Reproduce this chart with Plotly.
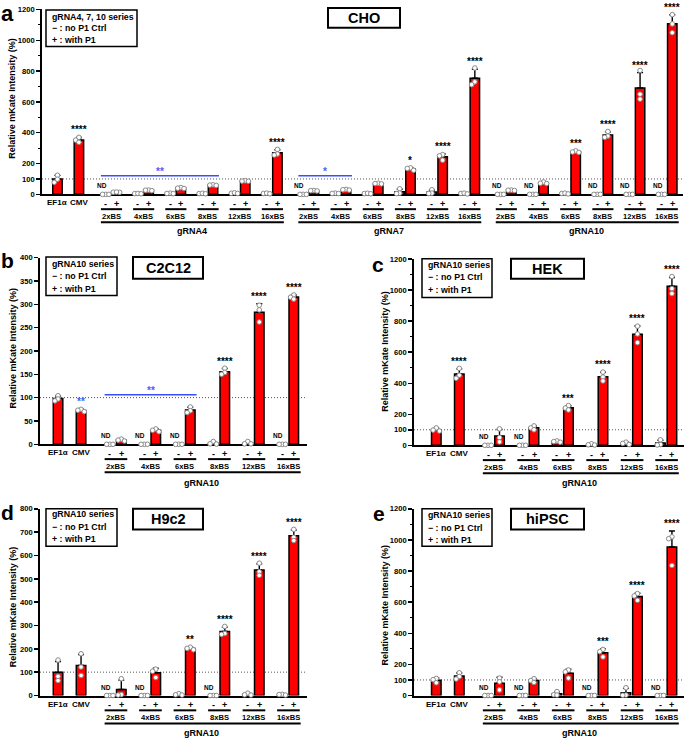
import numpy as np
import plotly.graph_objects as go

W, H = 685, 743
FONT = "Liberation Sans, Arial, Helvetica, sans-serif"

# ---------------- data ----------------
CTRL_LABELS = ["EF1α", "CMV"]
BS_LABELS = ["2xBS", "4xBS", "6xBS", "8xBS", "12xBS", "16xBS"]
SIGN_LABELS = ["-", "+"]
LEGEND_LINES = ["− : no P1 Ctrl", "+ : with P1"]

# Panel a: CHO (replicates, %)
CHO_BLOCKS = ["gRNA4", "gRNA7", "gRNA10"]
CHO_CTRL = [[124, 78, 98], [370, 352, 338]]
CHO_MINUS = [
    [[0, 0, 0], [5, 6, 4], [8, 5, 6], [5, 7, 4], [7, 10, 6], [6, 8, 4]],
    [[0, 0, 0], [8, 6, 5], [5, 7, 4], [36, 8, 5], [30, 8, 6], [6, 8, 3]],
    [[0, 0, 0], [0, 0, 0], [6, 8, 3], [0, 0, 0], [0, 0, 0], [0, 0, 0]],
]
CHO_PLUS = [
    [[14, 13, 15], [28, 24, 27], [44, 38, 40], [62, 58, 60], [88, 85, 86], [292, 262, 255]],
    [[25, 22, 24], [32, 28, 30], [72, 68, 70], [172, 168, 156], [258, 250, 222], [820, 730, 712]],
    [[28, 25, 27], [80, 72, 70], [282, 275, 272], [408, 378, 370], [804, 650, 618], [1166, 1106, 1049]],
]
CHO_CTRL_STARS = ["", "****"]
CHO_PLUS_STARS = [
    ["", "", "", "", "", "****"],
    ["", "", "", "*", "****", "****"],
    ["", "", "***", "****", "****", "****"],
]
CHO_BRACKETS = [(0, 0, 3, 121, "**"), (1, 0, 1, 121, "*")]

# Panel b: C2C12
C2C12_CTRL = [[104, 97, 93], [75, 73, 70]]
C2C12_MINUS = [[[0, 0, 0], [0, 0, 0], [0, 0, 0], [6, 0.5, 1], [6, 1, 1], [0, 0, 0]]]
C2C12_PLUS = [[[11, 9, 7], [33, 30, 27], [80, 72, 68], [163, 154, 150], [298, 288, 262], [320, 315, 311]]]
C2C12_CTRL_STARS = ["", ""]
C2C12_CTRL_BLUE = ["", "**"]
C2C12_PLUS_STARS = [["", "", "", "****", "****", "****"]]
C2C12_BRACKETS = [(0, 0, 2, 106, "**")]

# Panel c: HEK
HEK_CTRL = [[112, 98, 92], [496, 452, 432]]
HEK_MINUS = [[[0, 0, 0], [0, 0, 0], [28, 24, 20], [10, 2, 3], [20, 12, 5], [35, 5, 2]]]
HEK_PLUS = [[[106, 50, 22], [125, 112, 100], [256, 240, 228], [472, 440, 415], [768, 718, 662], [1088, 1010, 978]]]
HEK_CTRL_STARS = ["", "****"]
HEK_PLUS_STARS = [["", "", "***", "****", "****", "****"]]

# Panel d: H9c2
H9C2_CTRL = [[152, 82, 64], [179, 122, 86]]
H9C2_MINUS = [[[0, 0, 0], [0, 0, 0], [8, 3, 2], [0, 0, 0], [10, 3, 2], [5, 2, 4]]]
H9C2_PLUS = [[[72, 4, 2], [113, 104, 77], [207, 202, 196], [296, 266, 262], [567, 530, 515], [712, 678, 664]]]
H9C2_CTRL_STARS = ["", ""]
H9C2_PLUS_STARS = [["", "", "**", "****", "****", "****"]]

# Panel e: hiPSC
HIPSC_CTRL = [[110, 102, 82], [146, 122, 106]]
HIPSC_MINUS = [[[0, 0, 0], [0, 0, 0], [25, 5, 3], [0, 0, 0], [50, 3, 2], [0, 0, 0]]]
HIPSC_PLUS = [[[112, 88, 36], [108, 96, 84], [164, 152, 112], [296, 282, 248], [655, 640, 612], [1020, 1008, 836]]]
HIPSC_CTRL_STARS = ["", ""]
HIPSC_PLUS_STARS = [["", "", "", "***", "****", "****"]]

TICKS_1200 = [0, 100, 200, 400, 600, 800, 1000, 1200]
MINOR_1200 = [300, 500, 700, 900, 1100]
TICKS_400 = [0, 50, 100, 150, 200, 250, 300, 350, 400]
TICKS_800 = [0, 100, 200, 300, 400, 500, 600, 700, 800]

# ---------------- geometry (pixels) ----------------
GEOM_L = dict(x0=40, x1=307, xr0=-1.57, xr1=21.65)
GEOM_R = dict(x0=414, x1=684, xr0=-1.94, xr1=21.55)

PANELS = [
    dict(letter="a", title="CHO", head="gRNA4, 7, 10 series", blocks=CHO_BLOCKS,
         ctrl=CHO_CTRL, minus=CHO_MINUS, plus=CHO_PLUS, ctrl_stars=CHO_CTRL_STARS,
         ctrl_blue=["", ""], plus_stars=CHO_PLUS_STARS, brackets=CHO_BRACKETS,
         ymax=1200, ticks=TICKS_1200, minor=MINOR_1200,
         g=dict(x0=42, x1=683, xr0=-1.44, xr1=58.3, ytop=5.5, yzero=192.7, first=4.5, step=18.4,
                barw=0.88, letter=(7, 10, 22), tbox=(328, 4, 400, 24), lbox=(46, 6, 137, 43),
                llines=(12.7, 24.3, 36), ytitle=(12, 96), gy=37)),
    dict(letter="b", title="C2C12", head="gRNA10 series", blocks=["gRNA10"],
         ctrl=C2C12_CTRL, minus=C2C12_MINUS, plus=C2C12_PLUS, ctrl_stars=C2C12_CTRL_STARS,
         ctrl_blue=C2C12_CTRL_BLUE, plus_stars=C2C12_PLUS_STARS, brackets=C2C12_BRACKETS,
         ymax=400, ticks=TICKS_400, minor=[],
         g=dict(GEOM_L, ytop=256.7, yzero=445.7, first=4.5, step=0, barw=0.83,
                letter=(7, 260, 21), tbox=(133, 256, 203, 278), lbox=(46, 256, 117, 295),
                llines=(263.3, 275.5, 288.3), ytitle=(12.7, 348), gy=39)),
    dict(letter="c", title="HEK", head="gRNA10 series", blocks=["gRNA10"],
         ctrl=HEK_CTRL, minus=HEK_MINUS, plus=HEK_PLUS, ctrl_stars=HEK_CTRL_STARS,
         ctrl_blue=["", ""], plus_stars=HEK_PLUS_STARS, brackets=[],
         ymax=1200, ticks=TICKS_1200, minor=MINOR_1200,
         g=dict(GEOM_R, ytop=258.3, yzero=446.7, first=4.5, step=0, barw=0.83,
                letter=(378, 264, 21), tbox=(511, 258, 584, 278), lbox=(422, 258, 492, 297),
                llines=(264.3, 276.7, 289.3), ytitle=(385, 352), gy=38.3)),
    dict(letter="d", title="H9c2", head="gRNA10 series", blocks=["gRNA10"],
         ctrl=H9C2_CTRL, minus=H9C2_MINUS, plus=H9C2_PLUS, ctrl_stars=H9C2_CTRL_STARS,
         ctrl_blue=["", ""], plus_stars=H9C2_PLUS_STARS, brackets=[],
         ymax=800, ticks=TICKS_800, minor=[],
         g=dict(GEOM_L, ytop=511, yzero=700, first=4.5, step=0, barw=0.83,
                letter=(7, 515, 21), tbox=(133, 511, 203, 532), lbox=(46, 511, 117, 549),
                llines=(516.7, 529.3, 541.7), ytitle=(12.7, 610), gy=38.3)),
    dict(letter="e", title="hiPSC", head="gRNA10 series", blocks=["gRNA10"],
         ctrl=HIPSC_CTRL, minus=HIPSC_MINUS, plus=HIPSC_PLUS, ctrl_stars=HIPSC_CTRL_STARS,
         ctrl_blue=["", ""], plus_stars=HIPSC_PLUS_STARS, brackets=[],
         ymax=1200, ticks=TICKS_1200, minor=MINOR_1200,
         g=dict(GEOM_R, ytop=511, yzero=700, first=4.5, step=0, barw=0.83,
                letter=(379, 516, 21), tbox=(511, 511, 584, 532), lbox=(422, 511, 492, 549),
                llines=(517.7, 530, 542.3), ytitle=(385, 609), gy=38.3)),
]

BLUE_LINE = "#3a4dff"
BLUE_TXT = "#4a5cff"

fig = go.Figure()
shapes, annotations, layout_axes = [], [], {}


def P(y):
    return 1 - y / H


def txt(x, y, text, size, xref="paper", yref="paper", xanchor="center", yanchor="middle",
        color="black", bold=True, **kw):
    annotations.append(dict(x=x, y=y, xref=xref, yref=yref, text=f"<b>{text}</b>" if bold else text,
                            showarrow=False, xanchor=xanchor, yanchor=yanchor,
                            font=dict(family=FONT, size=size, color=color), **kw))


def spread(vals, ppu, slot_px, step=3.2, thr=3.2):
    placed, offs = [], [0.0] * len(vals)
    order = sorted(range(len(vals)), key=lambda i: -vals[i])
    for i in order:
        chosen = 0.0
        for c in [0.0, -step, step, -2 * step, 2 * step]:
            if all(np.hypot(c - pc, (vals[i] - pv) * ppu) >= thr - 1e-9 for pc, pv in placed):
                chosen = c
                break
        placed.append((chosen, vals[i]))
        offs[i] = chosen / slot_px
    return offs


for pi, p in enumerate(PANELS, start=1):
    g = p["g"]
    sfx = "" if pi == 1 else str(pi)
    xa, ya = "x" + sfx, "y" + sfx
    slot_px = (g["x1"] - g["x0"]) / (g["xr1"] - g["xr0"])
    ppu = (g["yzero"] - g["ytop"]) / p["ymax"]
    yz = g["yzero"]

    xs, reps, stars = [], [], []
    for k in range(2):
        xs.append(2.0 * k)
        reps.append(p["ctrl"][k])
        if p["ctrl_stars"][k]:
            stars.append((2.0 * k, p["ctrl"][k], p["ctrl_stars"][k], "black"))
        if p["ctrl_blue"][k]:
            stars.append((2.0 * k, p["ctrl"][k], p["ctrl_blue"][k], BLUE_TXT))
        txt(2.0 * k, P(yz + 8.6), CTRL_LABELS[k], 8, xref=xa)

    group_x = []
    for b, bname in enumerate(p["blocks"]):
        gx = []
        for j in range(len(BS_LABELS)):
            xm = g["first"] + b * g["step"] + 3 * j
            xp = xm + 1
            gx.append((xm, xp))
            for sx, r in ((xm, p["minus"][b][j]), (xp, p["plus"][b][j])):
                xs.append(sx)
                reps.append(r)
            if p["plus_stars"][b][j]:
                stars.append((xp, p["plus"][b][j], p["plus_stars"][b][j], "black"))
            if max(p["minus"][b][j]) == 0:
                txt(xm - 4 / slot_px, 0, "ND", 6.5, xref=xa, yref=ya, yshift=8.5)
            for sx, lab in ((xm, SIGN_LABELS[0]), (xp, SIGN_LABELS[1])):
                txt(sx, P(yz + 9.6), lab, 9, xref=xa)
            shapes.append(dict(type="line", xref=xa, yref="paper", x0=xm - 0.45, x1=xp + 0.52,
                               y0=P(yz + 15), y1=P(yz + 15), line=dict(color="black", width=2)))
            txt((xm + xp) / 2, P(yz + 22), BS_LABELS[j], 7.6, xref=xa)
        group_x.append(gx)
        bx0, bx1 = gx[0][0] - 0.45, gx[-1][1] + 0.6
        shapes.append(dict(type="line", xref=xa, yref="paper", x0=bx0, x1=bx1,
                           y0=P(yz + 28.3), y1=P(yz + 28.3), line=dict(color="black", width=2)))
        txt((gx[0][0] + gx[-1][1]) / 2, P(yz + g["gy"]), bname, 9, xref=xa)

    means = [float(np.mean(r)) for r in reps]
    sds = [float(np.std(r, ddof=1)) for r in reps]

    fig.add_trace(go.Bar(
        x=xs, y=means, width=g["barw"], xaxis=xa, yaxis=ya, showlegend=False, hoverinfo="skip",
        marker=dict(color="#ff0000", line=dict(color="black", width=1.5)),
        error_y=dict(type="data", array=sds, arrayminus=[0] * len(sds), symmetric=False,
                     color="black", thickness=1.4, width=3),
    ))

    px_, py_ = [], []
    for sx, r in zip(xs, reps):
        offs = spread(r, ppu, slot_px)
        for v, o in zip(r, offs):
            px_.append(sx + o)
            py_.append(v)
    fig.add_trace(go.Scatter(
        x=px_, y=py_, mode="markers", xaxis=xa, yaxis=ya, showlegend=False, cliponaxis=False,
        hoverinfo="skip",
        marker=dict(size=4.6, color="white", line=dict(color="#8a8a8a", width=1)),
    ))

    for sx, r, lab, col in stars:
        top = float(np.mean(r) + np.std(r, ddof=1))
        txt(sx, top, lab, 10, xref=xa, yref=ya, color=col, bold=True, yshift=7.5)

    for (b, g0, g1, yv, lab) in p["brackets"]:
        x0b, x1b = group_x[b][g0][0] - 0.45, group_x[b][g1][1] + 0.55
        shapes.append(dict(type="line", xref=xa, yref=ya, x0=x0b, x1=x1b, y0=yv, y1=yv,
                           line=dict(color=BLUE_LINE, width=1.6)))
        txt((x0b + x1b) / 2, yv, lab, 10, xref=xa, yref=ya, color=BLUE_TXT, bold=True, yshift=4)

    # dotted 100 % reference line
    shapes.append(dict(type="line", xref=f"{xa} domain", yref=ya, x0=0, x1=1, y0=100, y1=100,
                       line=dict(color="#555555", width=1, dash="1px,2px"), layer="below"))

    layout_axes["xaxis" + sfx] = dict(
        domain=[g["x0"] / W, g["x1"] / W], range=[g["xr0"], g["xr1"]], anchor=ya,
        showline=True, linecolor="black", linewidth=2, showgrid=False, zeroline=False,
        showticklabels=False, ticks="", layer="below traces", fixedrange=True)
    yax = dict(
        domain=[P(yz), P(g["ytop"])], range=[0, p["ymax"]], anchor=xa,
        showline=True, linecolor="black", linewidth=1.8, showgrid=False, zeroline=False,
        tickmode="array", tickvals=p["ticks"], ticktext=[str(t) for t in p["ticks"]],
        ticks="outside", ticklen=4, tickwidth=1.5, tickcolor="black",
        tickfont=dict(family=FONT, size=7.6, color="black", weight="bold"),
        layer="below traces", fixedrange=True)
    if p["minor"]:
        yax["minor"] = dict(tickmode="array", tickvals=p["minor"], ticks="outside", ticklen=2.5,
                            tickwidth=1.2, tickcolor="black", showgrid=False)
    layout_axes["yaxis" + sfx] = yax

    # y-axis title
    txt(g["ytitle"][0] / W, P(g["ytitle"][1]), "Relative mKate Intensity (%)", 9, textangle=-90)
    # panel letter
    lx, ly, ls = g["letter"]
    txt(lx / W, P(ly), p["letter"], ls)
    # title box
    tx0, ty0, tx1, ty1 = g["tbox"]
    shapes.append(dict(type="rect", xref="paper", yref="paper", x0=tx0 / W, x1=tx1 / W,
                       y0=P(ty1), y1=P(ty0), line=dict(color="black", width=2), fillcolor="white"))
    txt((tx0 + tx1) / 2 / W, P((ty0 + ty1) / 2), p["title"], 14.5)
    # legend box
    bx0, by0, bx1, by1 = g["lbox"]
    shapes.append(dict(type="rect", xref="paper", yref="paper", x0=bx0 / W, x1=bx1 / W,
                       y0=P(by1), y1=P(by0), line=dict(color="black", width=1.5), fillcolor="white"))
    for line_text, ly_ in zip([p["head"]] + LEGEND_LINES, g["llines"]):
        txt((bx0 + 3.5) / W, P(ly_), line_text, 8.8, xanchor="left")

fig.update_layout(
    width=W, height=H, margin=dict(l=0, r=0, t=0, b=0),
    paper_bgcolor="white", plot_bgcolor="white", bargap=0, hovermode=False,
    shapes=shapes, annotations=annotations, **layout_axes,
)
fig.write_html(
    "out.html",
    config={"displayModeBar": False, "staticPlot": True},
    post_script="document.body.style.margin='0';document.body.style.padding='0';"
                "document.body.style.overflow='hidden';"
                "document.documentElement.style.overflow='hidden';",
)
